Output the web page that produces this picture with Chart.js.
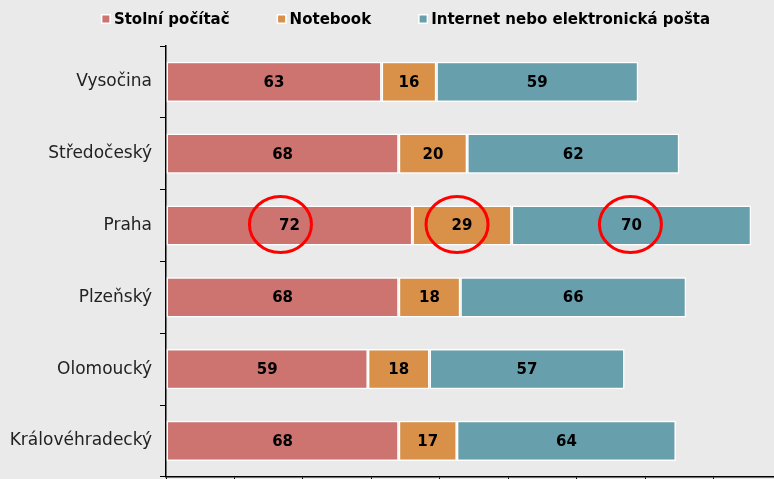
<!DOCTYPE html>
<html>
<head>
<meta charset="utf-8">
<script src="https://cdn.jsdelivr.net/npm/chart.js@4/dist/chart.umd.min.js"></script>
<style>
  html, body { margin: 0; padding: 0; background: #eaeaea; overflow: hidden; }
  #wrap { width: 782px; height: 495px; }
</style>
</head>
<body>
<div id="wrap"><canvas id="chart"></canvas></div>
<script>
const regions = ['Vysočina', 'Středočeský', 'Praha', 'Plzeňský', 'Olomoucký', 'Královéhradecký'];
const desktop = [63, 68, 72, 68, 59, 68];
const notebook = [16, 20, 29, 18, 18, 17];
const internet = [59, 62, 70, 66, 57, 64];

// which region gets the red circles, and small horizontal nudges for each circle
const circledRegion = 'Praha';
const circleNudge = [-9, -5, -1];

// draws the value in the middle of every segment
const valueLabels = {
    id: 'valueLabels',
    afterDatasetsDraw(chart) {
        const ctx = chart.ctx;
        ctx.save();
        ctx.font = 'bold 15px "DejaVu Sans"';
        ctx.fillStyle = '#000';
        ctx.textAlign = 'center';
        ctx.textBaseline = 'middle';
        chart.data.datasets.forEach((ds, i) => {
            chart.getDatasetMeta(i).data.forEach((bar, j) => {
                const p = bar.getCenterPoint();
                ctx.fillText(ds.data[j], p.x, p.y + 1);
            });
        });
        ctx.restore();
    }
};

// legend in one row at the top, wide gaps between the items
const topLegend = {
    id: 'topLegend',
    afterDraw(chart) {
        const ctx = chart.ctx;
        const gap = 46;
        ctx.save();
        ctx.font = 'bold 15px "DejaVu Sans"';
        ctx.textBaseline = 'middle';
        const items = chart.data.datasets.map(ds => ({
            text: ds.label,
            color: ds.backgroundColor,
            w: 14 + ctx.measureText(ds.label).width,
        }));
        const total = items.reduce((s, it) => s + it.w, 0) + gap * (items.length - 1);
        let x = chart.width / 2 + 15 - total / 2;
        const y = 19;
        items.forEach(it => {
            ctx.fillStyle = '#ffffff';
            ctx.fillRect(x, y - 5, 10, 10);
            ctx.fillStyle = it.color;
            ctx.fillRect(x + 1.5, y - 3.5, 7, 7);
            ctx.fillStyle = '#000';
            ctx.fillText(it.text, x + 13, y + 1);
            x += it.w + gap;
        });
        ctx.restore();
    }
};

// red circles around the Praha values
const circles = {
    id: 'circles',
    afterDraw(chart) {
        const ctx = chart.ctx;
        const j = regions.indexOf(circledRegion);
        ctx.save();
        ctx.strokeStyle = '#ff0000';
        ctx.lineWidth = 3;
        chart.data.datasets.forEach((ds, i) => {
            const p = chart.getDatasetMeta(i).data[j].getCenterPoint();
            ctx.beginPath();
            ctx.ellipse(p.x + circleNudge[i], p.y - 1, 31, 28, 0, 0, Math.PI * 2);
            ctx.stroke();
        });
        ctx.restore();
    }
};

const ctx = document.getElementById('chart').getContext('2d');

new Chart(ctx, {
    type: 'bar',
    data: {
        labels: regions,
        datasets: [
            { label: 'Stolní počítač', data: desktop, backgroundColor: '#cd7370' },
            { label: 'Notebook', data: notebook, backgroundColor: '#d9914a' },
            { label: 'Internet nebo elektronická pošta', data: internet, backgroundColor: '#679fad' },
        ],
    },
    options: {
        indexAxis: 'y',
        responsive: true,
        maintainAspectRatio: false,
        animation: false,
        datasets: {
            bar: {
                borderColor: '#ffffff',
                borderWidth: 1.5,
                borderSkipped: false,
                categoryPercentage: 1,
                barPercentage: 0.56,
            },
        },
        layout: { padding: { top: 46, right: 0, left: 0, bottom: 0 } },
        plugins: {
            tooltip: { enabled: false },
            legend: { display: false },
        },
        scales: {
            x: {
                stacked: true,
                min: 0,
                max: 180,
                ticks: { display: false, stepSize: 20 },
                grid: { drawOnChartArea: false, drawTicks: true, tickLength: 8, color: '#000' },
                border: { color: '#000', width: 1.5 },
                afterFit(scale) { scale.height = 13; },
            },
            y: {
                stacked: true,
                ticks: {
                    font: { family: 'DejaVu Sans', size: 17 },
                    color: '#222',
                    padding: 8,
                },
                grid: { drawOnChartArea: false, offset: true, tickLength: 6, color: '#000' },
                border: { color: '#000', width: 1.5 },
                afterFit(scale) { scale.width = 166; },
            },
        },
    },
    plugins: [valueLabels, topLegend, circles],
});
</script>
</body>
</html>
